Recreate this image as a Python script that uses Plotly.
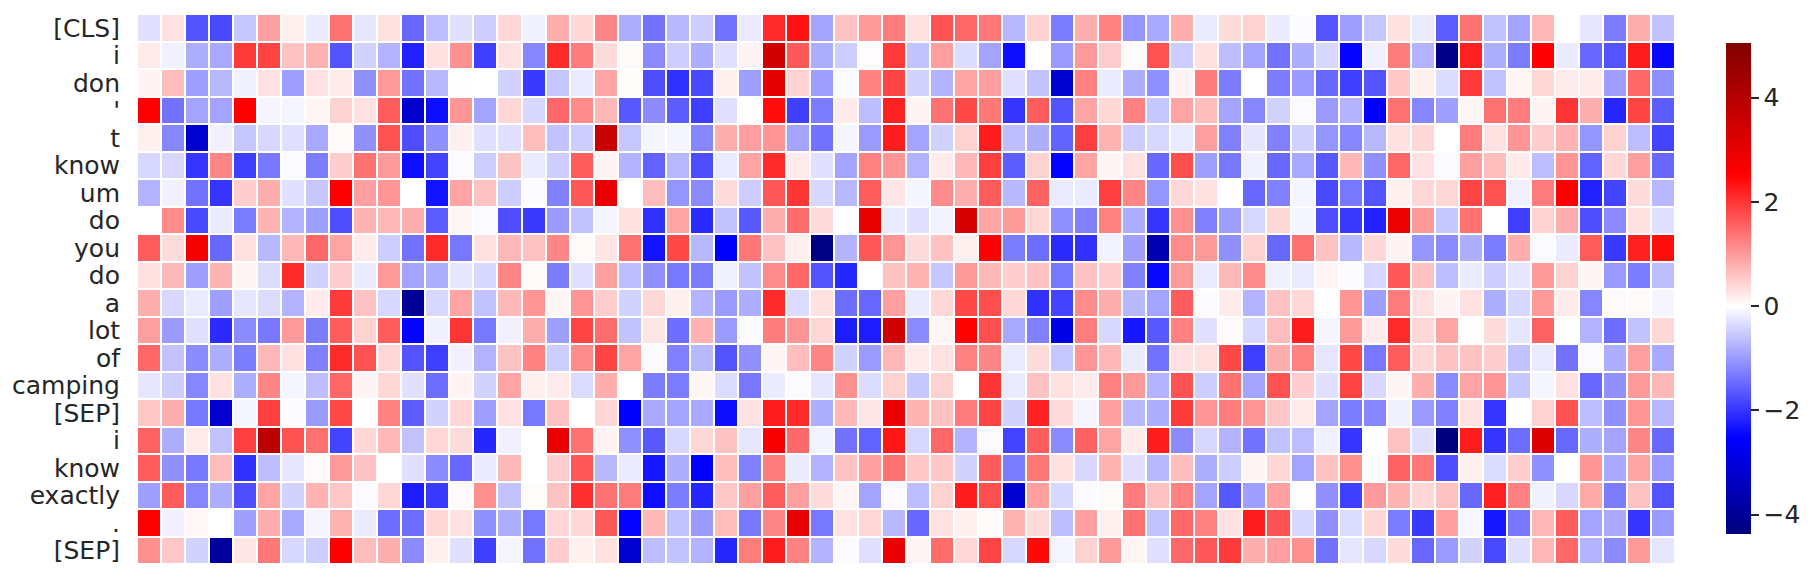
import plotly.graph_objects as go

tokens = ['[CLS]', 'i', 'don', "'", 't', 'know', 'um', 'do', 'you', 'do', 'a', 'lot', 'of',
          'camping', '[SEP]', 'i', 'know', 'exactly', '.', '[SEP]']

# one list per token, 64 dimensions each
row_00 = [-.3,.3,-1.7,-1.8,-.55,.95,.15,-.2,1.4,-.25,.3,-1.5,-.65,-.3,-.5,.4,-.15,.8,.4,
          1.2,-.8,-1.4,-.7,-.5,-1.4,-.2,2.1,2.35,-.9,.6,1.0,1.3,.3,1.7,1.5,1.35,-.7,.45,-1.3,.8,1.25,-1.05,-.85,.8,
          -.2,.35,.45,-.2,-.03,-1.7,-.95,-.55,.3,-.2,-1.6,1.4,-.6,-.9,.7,0,-.25,-1.3,.8,-.6]
row_01 = [.2,-.15,-.8,-.85,1.95,1.85,.6,.75,-1.7,-.45,-.75,-2.2,.3,1.1,-1.9,.3,-1.2,2.1,1.3,
          .35,.05,-1.15,-.5,-.8,-.3,.12,3.5,1.65,-.8,-.5,.02,1.95,-.6,.95,-.35,-.9,-2.4,0,-1.0,1.0,.5,.05,1.7,-.5,
          .3,-.65,-.9,-1.4,-.8,-.4,-2.5,-.15,1.3,-.75,-4.2,2.2,-.8,-1.3,2.55,-.2,-1.5,-1.7,2.25,-2.45]
row_02 = [.12,.65,-.95,-.7,-.15,.3,-.95,.3,.2,-1.1,1.0,-1.4,-.7,.03,0,-.45,-1.95,-.55,-.2,
          .9,.03,-1.75,-2.05,-1.8,.15,-.95,3.1,.45,-.95,-.05,1.25,1.85,-.45,-.75,.9,.95,-.3,-.6,-3.2,1.25,-.2,-.8,-1.1,.12,
          1.3,-1.3,0,-1.3,-1.0,-1.5,-1.9,-1.7,.55,.15,-.35,1.95,-.6,.1,.4,.2,.2,-.95,1.5,-1.1]
row_03 = [2.55,-1.4,-.9,-.9,2.55,-.1,-.1,.1,.45,.3,1.6,-3.2,-2.4,1.05,-.9,.4,-.4,1.5,1.15,
          .7,-1.65,-1.15,-1.6,-1.9,-.3,-.02,2.4,-1.9,-1.3,.2,-.65,2.2,.12,1.4,1.8,1.35,-2.0,1.6,-1.7,.9,.4,1.25,-.55,.9,
          .65,-.9,-1.2,-.45,-.05,-1.0,-.75,-2.55,1.4,-1.2,-.95,.1,1.4,1.3,.12,2.0,.8,-2.15,1.85,-1.6]
row_04 = [.15,-1.2,-3.2,-.15,-.55,-.4,-.3,-.85,.05,-1.1,1.7,-1.75,-1.1,.15,-.3,-.3,.65,-.6,-.5,
          3.6,-.55,-.1,-.1,-1.2,.8,.95,1.05,-.9,-1.4,-.1,-1.0,2.25,-.9,-.45,.45,2.25,-.65,-.8,-1.55,1.9,.75,-.5,-.4,-.2,
          .95,-1.25,-.25,-1.25,-.45,-1.05,-1.2,-.7,.3,.4,0,1.3,.3,1.05,.5,.75,-1.05,.45,-.65,-1.85]
row_05 = [-.4,-.4,-2.0,1.2,-1.9,-1.35,-.05,-1.3,.5,1.4,1.0,-2.4,-1.85,-.05,-.5,.6,-.2,-.5,1.6,
          .12,-.75,-1.55,-.7,-1.75,-.2,.9,2.1,.2,-.3,-.9,1.25,1.05,-.75,.2,.7,1.9,-1.6,.45,-2.5,.9,.1,.3,-1.5,1.75,
          -.95,-1.35,-.15,-1.5,-.85,-1.65,.7,-1.1,1.5,.3,-.05,.95,.65,.2,-.65,1.05,-1.55,.4,.95,-1.5]
row_06 = [-.75,-.15,-1.4,-2.0,.5,.8,-.3,-.55,2.55,.95,1.05,0,-2.35,.9,.6,-.5,-.03,-1.25,1.65,
          2.95,0,.65,-1.05,-1.15,.35,-.5,1.65,2.0,-.4,-.7,1.6,.25,-.1,1.15,.8,1.6,-.7,1.55,-.2,-.2,1.9,1.2,-1.05,.4,
          .3,0,-1.5,-1.25,-.1,-1.8,-1.35,-1.7,.15,.4,.4,1.85,1.7,-.15,1.3,2.55,-2.2,-1.85,.35,-.7]
row_07 = [0,1.15,-1.8,-.2,-1.3,.75,-.75,-.95,-1.75,.75,.7,.8,-1.6,.1,-.05,-1.75,-1.95,-1.0,-.6,
          -.1,.3,-2.05,.9,-2.1,-.6,-1.65,.8,1.45,.35,0,3.0,-.2,-.3,-.12,3.3,.9,1.0,.4,-1.1,-1.25,1.25,-.8,-2.0,1.1,
          -1.25,-.95,-.4,.4,-.1,-1.75,-1.95,-2.2,2.9,1.0,-.55,1.4,0,-1.9,.45,.8,-1.75,-1.15,.3,-.3]
row_08 = [1.6,.35,2.75,-1.5,.3,-.7,.7,1.5,.9,.2,-.5,-1.4,2.1,-1.35,.3,.7,.6,1.2,.05,
          .25,1.4,-2.35,1.8,-.7,-2.55,1.35,.6,.15,-4.3,-.75,1.65,1.05,.35,.6,.15,2.55,-1.3,-1.45,-2.1,-2.05,-.12,-.95,-3.6,1.15,
          1.0,-1.1,.45,-1.5,1.4,.6,-.7,.4,.12,-1.05,-1.15,-.8,-1.3,.8,-.03,-.2,1.6,-1.95,2.2,2.4]
row_09 = [.3,.7,-.95,.75,.1,-.35,2.1,-.45,.5,-.2,1.0,-.9,-.8,-.25,-.4,1.2,.05,-1.3,-.3,
          .95,-.65,-1.1,-1.35,-1.3,-.15,-.6,1.15,1.5,-1.7,-2.15,0,.6,.75,-.55,1.0,.7,.5,.6,-1.35,.6,.5,-1.25,-2.45,1.0,
          -.2,.7,1.15,-.15,-.2,.1,-.03,-.4,1.65,.6,-.65,-.2,-.5,-.25,1.0,.45,.1,-1.0,-1.3,-.65]
row_10 = [.8,-.4,-.2,-.95,-.25,-.35,-.75,.2,1.95,.6,-.4,-4.0,-.4,.9,-.6,.7,1.05,.1,1.05,
          .5,-.45,.4,.15,-.75,-1.0,-.8,2.1,-.35,.3,-1.45,-1.5,.95,-.2,.4,1.8,1.75,.4,-2.05,-1.85,1.15,.8,-.7,-.9,1.6,
          -.03,.2,-.75,.6,.4,0,1.05,-.95,1.3,.3,.12,.3,-.8,-.4,1.0,.2,-1.2,.05,.05,-.1]
row_11 = [.95,-1.0,-.3,-2.1,-1.15,-1.35,1.0,-1.3,1.6,.45,1.6,-2.5,-.15,2.0,-1.35,-.15,.8,-.95,1.85,
          1.45,-.6,.25,-1.45,.75,-1.0,-.05,1.3,1.05,.4,-2.25,-2.25,3.5,-1.15,.1,2.5,1.75,-.85,-1.25,-2.9,1.3,-.4,-2.3,-1.65,1.25,
          -.3,.05,-.4,.65,2.25,-.1,1.0,.2,2.1,.4,.9,.03,.35,-.25,1.55,0,-.75,-1.45,-.6,.4]
row_12 = [1.5,-.6,-1.15,-.8,-1.3,.7,.3,-1.25,2.1,1.7,.4,-1.7,-1.9,-.15,-.75,.6,1.25,-.5,1.15,
          1.85,.9,-.05,-1.25,-.7,-1.7,-1.1,.1,.65,1.2,-.45,-1.0,.7,.2,.3,1.25,1.2,-.2,.35,-.55,1.05,.7,-.2,-1.4,.3,
          .3,1.8,-1.9,.8,1.25,-.25,1.8,-1.35,1.6,.4,.6,.6,.5,-.6,-.2,-1.4,-.05,-.8,.95,-.85]
row_13 = [-.25,-.5,-1.2,.3,-.8,1.2,-.1,-.65,1.5,.12,.4,-.3,-1.45,.12,-.45,.9,.15,.2,-.35,
          .8,0,-1.3,-1.3,.1,-.35,-1.35,-.2,-.05,-.25,1.1,-.35,.45,-.55,.45,0,2.0,-.2,.6,.3,.2,1.25,1.0,-.75,1.7,
          -.5,1.4,-.9,1.7,.5,-.3,1.85,-.4,.1,.8,-1.15,.9,1.05,-.55,-.1,.3,-1.5,-1.1,1.0,.7]
row_14 = [.55,.8,-1.35,-3.2,-.1,1.9,-.03,-1.0,1.8,0,1.25,-1.6,-.45,.4,-.95,.3,-1.35,.6,0,
          .4,-2.55,-.85,-.9,-.85,-2.4,.3,2.25,2.1,-.8,.7,.25,2.95,.75,.6,1.3,1.85,-.45,2.2,.35,-.1,.95,-.7,-.8,1.95,
          1.05,1.3,1.05,.55,.2,-.9,-1.3,-1.2,-.15,-1.0,-1.25,.3,-2.0,0,.45,1.7,-.65,-1.1,1.05,-.7]
row_15 = [1.55,-.8,.2,-.6,1.9,3.9,1.7,1.4,-1.85,.4,.7,-.6,.4,.35,-2.15,-.15,0,2.95,1.4,
          .12,-1.1,-1.65,-.4,.4,.6,-.25,2.65,1.5,-.12,-1.4,-1.55,2.3,-.4,1.5,-.75,-.05,-1.85,1.6,-1.15,1.55,.9,.2,2.25,-1.15,
          -.4,-.75,-1.4,-.6,-.65,-.15,-2.0,0,.6,-.3,-4.35,2.25,-2.0,-1.45,3.2,-1.5,-.8,-.9,1.2,-1.5]
row_16 = [1.6,-1.1,-1.35,.65,-2.05,-.65,-.25,.05,1.0,.6,0,-.3,-1.15,-1.5,-.2,.7,0,.5,1.65,
          -.7,-.2,-2.3,-.8,-2.55,.65,-1.25,1.3,-.2,-.75,.6,.95,1.4,.55,.55,-.45,1.6,-1.3,1.35,.3,-.4,.75,-.3,-.7,.65,
          -.8,-.5,.1,.4,-.9,.6,1.1,-.03,1.55,1.35,-1.75,.15,-.35,.5,-1.1,0,1.05,-.85,.9,-1.0]
row_17 = [-.95,1.6,-1.2,-.8,-1.75,.9,-.45,.75,.55,-.05,.4,-2.25,-1.95,.05,1.1,-.6,.03,.6,2.05,
          1.4,1.3,-2.4,-1.3,-2.15,.55,.95,1.6,.95,.35,.1,-.9,-.05,-.65,.45,2.25,1.75,-3.2,.95,-.4,-.05,.05,1.3,.6,1.25,
          -.9,-1.65,-.95,.95,-.02,-1.1,-1.9,1.0,.75,.4,.6,-1.5,2.2,1.25,-.15,-.4,.85,-1.3,.6,-1.7]
row_18 = [2.55,-.15,.08,0,-.95,.8,-.85,-.1,.75,-.2,-1.45,-1.45,.4,.3,-1.1,-.8,-1.35,.4,.4,
          1.65,-2.5,.7,-.6,-1.0,.65,-1.35,1.2,3.0,-1.35,.3,.4,-.7,-1.5,.3,.15,.05,.75,.35,-.65,.95,.15,1.4,-.6,1.5,
          1.25,.3,2.25,1.7,-.4,-1.1,-.35,.4,-1.3,-1.95,.95,-.08,-2.3,-1.35,.7,1.6,-.9,-.85,-2.0,-1.0]
row_19 = [1.1,.55,-.45,-3.9,.25,1.35,-.4,-.5,2.55,.65,.8,-1.15,.15,-.3,-1.9,-.1,-1.4,.5,.15,
          .3,-3.2,-.65,-.6,-.75,-2.15,1.3,2.25,1.25,-.75,-.05,-.3,2.95,.1,1.45,.4,1.85,-.4,2.45,-.1,.45,1.0,.1,-.3,1.5,
          1.65,1.95,.8,.95,1.1,-1.4,-.25,-.4,.35,-1.5,-1.0,-.45,-1.8,-.3,.7,1.5,-.75,-1.15,1.0,-.25]

rows = [row_00, row_01, row_02, row_03, row_04, row_05, row_06, row_07, row_08, row_09,
        row_10, row_11, row_12, row_13, row_14, row_15, row_16, row_17, row_18, row_19]

# seismic, centred on zero, cut at the data range like seaborn does
vmin, vmax = -4.37, 5.05
def pos(v):
    return (v - vmin) / (vmax - vmin)

seismic = [
    [0, 'rgb(0,0,125)'],
    [pos(-2.525), 'rgb(0,0,255)'],
    [pos(0), 'rgb(255,255,255)'],
    [pos(2.525), 'rgb(255,0,0)'],
    [1, 'rgb(128,0,0)'],
]

fig = go.Figure()

fig.add_trace(
    go.Heatmap(
        z=rows,
        x=list(range(64)),
        y=list(range(20)),
        zmin=vmin,
        zmax=vmax,
        colorscale=seismic,
        xgap=2,
        ygap=2,
        colorbar=dict(
            x=1.0332, xanchor='left', xpad=0,
            y=0.5009, yanchor='middle', ypad=0,
            thickness=25,
            lenmode='pixels', len=491,
            outlinewidth=0,
            tickvals=[-4, -2, 0, 2, 4],
            ticks='outside', ticklen=8, tickwidth=1.5, tickcolor='#262626',
            tickfont=dict(size=25, color='#262626'),
        ),
    )
)

fig.update_xaxes(range=[-0.5, 63.5], showgrid=False, zeroline=False, showticklabels=False,
                 ticks='', automargin=False)
fig.update_yaxes(
    range=[19.5, -0.5], showgrid=False, zeroline=False, ticks='', automargin=False,
    tickmode='array', tickvals=list(range(20)), ticktext=tokens,
    tickfont=dict(size=25, color='#262626'), ticklabelstandoff=16,
)

# the page body keeps its 8px margin, so the figure is that much smaller
fig.update_layout(
    width=1799, height=562,
    margin=dict(l=129, r=132, t=6, b=6),
    paper_bgcolor='white', plot_bgcolor='white',
    font=dict(family='DejaVu Sans', color='#262626'),
)

fig.write_html("out.html")
